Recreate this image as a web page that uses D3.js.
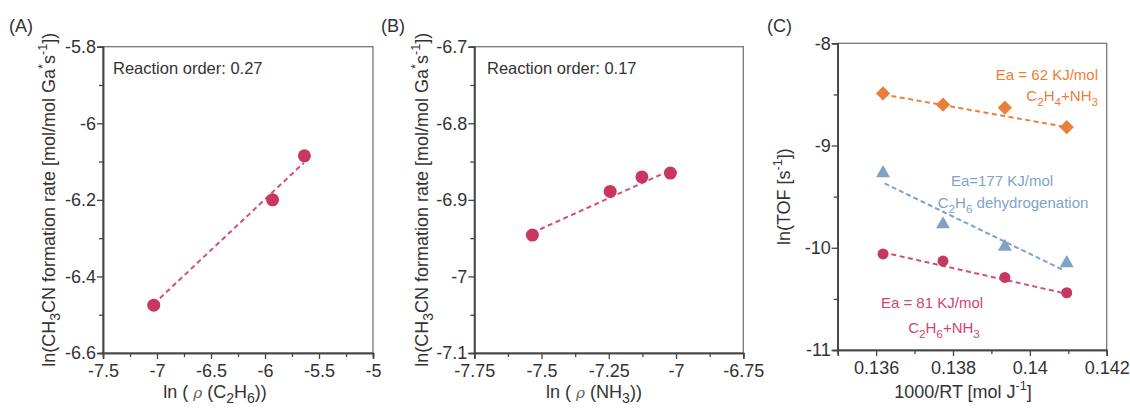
<!DOCTYPE html>
<html>
<head>
<meta charset="utf-8">
<script src="https://cdn.jsdelivr.net/npm/d3@7"></script>
<style>
  body { margin: 0; background: #fff; }
  svg text { font-family: "Liberation Sans", Arial, sans-serif; fill: #333; }
</style>
</head>
<body>
<div id="chart"></div>
<script>
// Panel A: ln(rate) vs ln(p C2H6)
const aX = [-7.03, -5.93, -5.635];
const aY = [-6.475, -6.20, -6.085];
const aFitX = [-7.03, -5.64];
const aFitY = [-6.472, -6.103];
const aXTicks = [-7.5, -7, -6.5, -6, -5.5, -5];
const aXLabels = ["-7.5", "-7", "-6.5", "-6", "-5.5", "-5"];
const aYTicks = [-5.8, -6, -6.2, -6.4, -6.6];
const aYLabels = ["-5.8", "-6", "-6.2", "-6.4", "-6.6"];

// Panel B: ln(rate) vs ln(p NH3)
const bX = [-7.534, -7.245, -7.127, -7.021];
const bY = [-6.946, -6.889, -6.870, -6.865];
const bFitX = [-7.534, -7.025];
const bFitY = [-6.943, -6.862];
const bXTicks = [-7.75, -7.5, -7.25, -7, -6.75];
const bXLabels = ["-7.75", "-7.5", "-7.25", "-7", "-6.75"];
const bYTicks = [-6.7, -6.8, -6.9, -7, -7.1];
const bYLabels = ["-6.7", "-6.8", "-6.9", "-7", "-7.1"];

// Panel C: Arrhenius plots
const cX = [0.13618, 0.13774, 0.13935, 0.14096];
const cOrange = [-8.49, -8.60, -8.63, -8.82];
const cBlue = [-9.27, -9.77, -9.99, -10.15];
const cRed = [-10.06, -10.13, -10.29, -10.44];
const cFitX = [0.13618, 0.14096];
const cOrangeFit = [-8.50, -8.82];
const cBlueFitX = [0.13622, 0.14088];
const cBlueFit = [-9.37, -10.22];
const cRedFit = [-10.045, -10.45];
const cXTicks = [0.136, 0.138, 0.14, 0.142];
const cXLabels = ["0.136", "0.138", "0.14", "0.142"];
const cYTicks = [-8, -9, -10, -11];
const cYLabels = ["-8", "-9", "-10", "-11"];

const RED = "#c8375f", ORANGE = "#e8803a", BLUE = "#7fa3c6";

const svg = d3.select("#chart").append("svg")
    .attr("width", 1130)
    .attr("height", 408);

// writes text made of parts: [string, "sub" | "sup" | "it" | ""]
function richText(sel, parts, size) {
    let shift = 0;
    parts.forEach(p => {
        const t = sel.append("tspan").text(p[0]);
        let target = 0;
        if (p[1] === "sub") target = size * 0.3;
        if (p[1] === "sup") target = -size * 0.42;
        t.attr("dy", target - shift);
        shift = target;
        if (p[1] === "sub") t.style("font-size", (size * 0.78) + "px");
        if (p[1] === "sup") t.style("font-size", (size * 0.7) + "px");
        if (p[1] === "it") t.style("font-style", "italic").style("font-family", "DejaVu Serif, serif")
            .style("font-size", (size * 0.85) + "px").style("fill", "#666");
    });
}

function panel(opt) {
    const g = svg.append("g");
    const x = d3.scaleLinear().domain(opt.xDomain).range([opt.left, opt.right]);
    const y = d3.scaleLinear().domain(opt.yDomain).range([opt.bottom, opt.top]);

    // frame top/right
    g.append("rect")
        .attr("x", opt.left).attr("y", opt.top)
        .attr("width", opt.right - opt.left).attr("height", opt.bottom - opt.top)
        .attr("fill", "none").attr("stroke", "#777").attr("stroke-width", 1.3);

    // minor ticks
    const xAxisMinor = d3.axisBottom(x).tickValues(opt.xMinor).tickSize(4).tickFormat("");
    const yAxisMinor = d3.axisLeft(y).tickValues(opt.yMinor).tickSize(4).tickFormat("");
    g.append("g").attr("transform", `translate(0,${opt.bottom})`).call(xAxisMinor);
    g.append("g").attr("transform", `translate(${opt.left},0)`).call(yAxisMinor);

    // major axes
    const xa = g.append("g").attr("transform", `translate(0,${opt.bottom})`)
        .call(d3.axisBottom(x).tickValues(opt.xTicks).tickSize(6).tickPadding(5)
            .tickFormat((d, i) => opt.xLabels[i]));
    const ya = g.append("g").attr("transform", `translate(${opt.left},0)`)
        .call(d3.axisLeft(y).tickValues(opt.yTicks).tickSize(6).tickPadding(1)
            .tickFormat((d, i) => opt.yLabels[i]));
    g.selectAll(".domain").attr("stroke", "#444").attr("stroke-width", 1.5);
    g.selectAll(".tick line").attr("stroke", "#444").attr("stroke-width", 1.3);
    [xa, ya].forEach(a => a.selectAll("text")
        .style("font-size", opt.tickSize + "px")
        .style("font-family", "Liberation Sans, Arial, sans-serif")
        .attr("fill", "#333"));

    // axis titles
    const xt = g.append("text")
        .attr("x", opt.xTitleX).attr("y", 398)
        .attr("text-anchor", "middle").style("font-size", "18px");
    richText(xt, opt.xTitle, 18);
    const yt = g.append("text")
        .attr("transform", `translate(${opt.yTitleX},${(opt.top + opt.bottom) / 2}) rotate(-90)`)
        .attr("text-anchor", "middle").style("font-size", "18px");
    richText(yt, opt.yTitle, 18);

    g.append("text").attr("x", opt.labelX).attr("y", 32)
        .style("font-size", "18px").text(opt.label);

    return {g, x, y};
}

const dashLine = (g, x, y, xs, ys, color, dash) => {
    g.append("path")
        .datum(xs.map((d, i) => [d, ys[i]]))
        .attr("fill", "none")
        .attr("stroke", color)
        .attr("stroke-width", 2)
        .attr("stroke-dasharray", dash || "5,3.5")
        .attr("d", d3.line().x(d => x(d[0])).y(d => y(d[1])));
};

const rateTitle = [["ln(CH", ""], ["3", "sub"], ["CN formation rate [mol/mol Ga", ""], ["*", "sup"],
    ["s", ""], ["-1", "sup"], ["])", ""]];

// ---- Panel A
const A = panel({
    left: 103, right: 373, top: 46.7, bottom: 353,
    xDomain: [-7.5, -5], yDomain: [-6.6, -5.8],
    xTicks: aXTicks, xLabels: aXLabels, yTicks: aYTicks, yLabels: aYLabels,
    xMinor: [-7.25, -6.75, -6.25, -5.75, -5.25], yMinor: [-5.9, -6.1, -6.3, -6.5],
    tickSize: 18, xTitleX: 215, yTitleX: 55, label: "(A)", labelX: 9,
    xTitle: [["ln ( ", ""], ["ρ", "it"], [" (C", ""], ["2", "sub"], ["H", ""], ["6", "sub"], ["))", ""]],
    yTitle: rateTitle
});
dashLine(A.g, A.x, A.y, aFitX, aFitY, "#d24f77");
A.g.selectAll(".pt").data(aX).enter().append("circle")
    .attr("cx", d => A.x(d)).attr("cy", (d, i) => A.y(aY[i])).attr("r", 6.5).attr("fill", RED);
A.g.append("text").attr("x", 113).attr("y", 74).style("font-size", "16.5px").text("Reaction order: 0.27");

// ---- Panel B
const B = panel({
    left: 474.3, right: 743.3, top: 46.7, bottom: 353,
    xDomain: [-7.75, -6.75], yDomain: [-7.1, -6.7],
    xTicks: bXTicks, xLabels: bXLabels, yTicks: bYTicks, yLabels: bYLabels,
    xMinor: [-7.625, -7.375, -7.125, -6.875], yMinor: [-6.75, -6.85, -6.95, -7.05],
    tickSize: 18, xTitleX: 594, yTitleX: 428, label: "(B)", labelX: 381,
    xTitle: [["ln ( ", ""], ["ρ", "it"], [" (NH", ""], ["3", "sub"], ["))", ""]],
    yTitle: rateTitle
});
dashLine(B.g, B.x, B.y, bFitX, bFitY, "#d24f77");
B.g.selectAll(".pt").data(bX).enter().append("circle")
    .attr("cx", d => B.x(d)).attr("cy", (d, i) => B.y(bY[i])).attr("r", 6.5).attr("fill", RED);
B.g.append("text").attr("x", 487).attr("y", 74).style("font-size", "16.5px").text("Reaction order: 0.17");

// ---- Panel C
const C = panel({
    left: 837.7, right: 1106.7, top: 43.3, bottom: 350,
    xDomain: [0.135, 0.142], yDomain: [-11, -8],
    xTicks: cXTicks, xLabels: cXLabels, yTicks: cYTicks, yLabels: cYLabels,
    xMinor: [0.135, 0.137, 0.139, 0.141], yMinor: [-8.5, -9.5, -10.5],
    tickSize: 18, xTitleX: 963, yTitleX: 790, label: "(C)", labelX: 767,
    xTitle: [["1000/RT [mol J", ""], ["-1", "sup"], ["]", ""]],
    yTitle: [["ln(TOF [s", ""], ["-1", "sup"], ["])", ""]]
});
dashLine(C.g, C.x, C.y, cFitX, cOrangeFit, ORANGE);
dashLine(C.g, C.x, C.y, cBlueFitX, cBlueFit, BLUE, "5,3");
dashLine(C.g, C.x, C.y, cFitX, cRedFit, "#d24f77");

C.g.selectAll(".dia").data(cX).enter().append("path")
    .attr("transform", (d, i) => `translate(${C.x(d)},${C.y(cOrange[i])})`)
    .attr("d", d3.symbol(d3.symbolDiamond2, 130))
    .attr("fill", ORANGE);
C.g.selectAll(".tri").data(cX).enter().append("path")
    .attr("transform", (d, i) => `translate(${C.x(d)},${C.y(cBlue[i])})`)
    .attr("d", d3.symbol(d3.symbolTriangle, 85))
    .attr("fill", BLUE);
C.g.selectAll(".cir").data(cX).enter().append("circle")
    .attr("cx", d => C.x(d)).attr("cy", (d, i) => C.y(cRed[i])).attr("r", 5.5).attr("fill", RED);

const note = (x, yy, anchor, color, parts) => {
    const t = C.g.append("text").attr("x", x).attr("y", yy).attr("text-anchor", anchor)
        .style("font-size", "15px").style("fill", color);
    richText(t, parts, 15);
    t.selectAll("tspan").style("fill", color);
};
note(1098, 80, "end", ORANGE, [["Ea = 62 KJ/mol", ""]]);
note(1098, 101, "end", ORANGE, [["C", ""], ["2", "sub"], ["H", ""], ["4", "sub"], ["+NH", ""], ["3", "sub"]]);
note(1002, 186, "middle", BLUE, [["Ea=177 KJ/mol", ""]]);
note(1013, 208, "middle", BLUE, [["C", ""], ["2", "sub"], ["H", ""], ["6", "sub"], [" dehydrogenation", ""]]);
note(932, 308, "middle", "#d0456e", [["Ea = 81 KJ/mol", ""]]);
note(944, 333, "middle", "#d0456e", [["C", ""], ["2", "sub"], ["H", ""], ["6", "sub"], ["+NH", ""], ["3", "sub"]]);
</script>
</body>
</html>
